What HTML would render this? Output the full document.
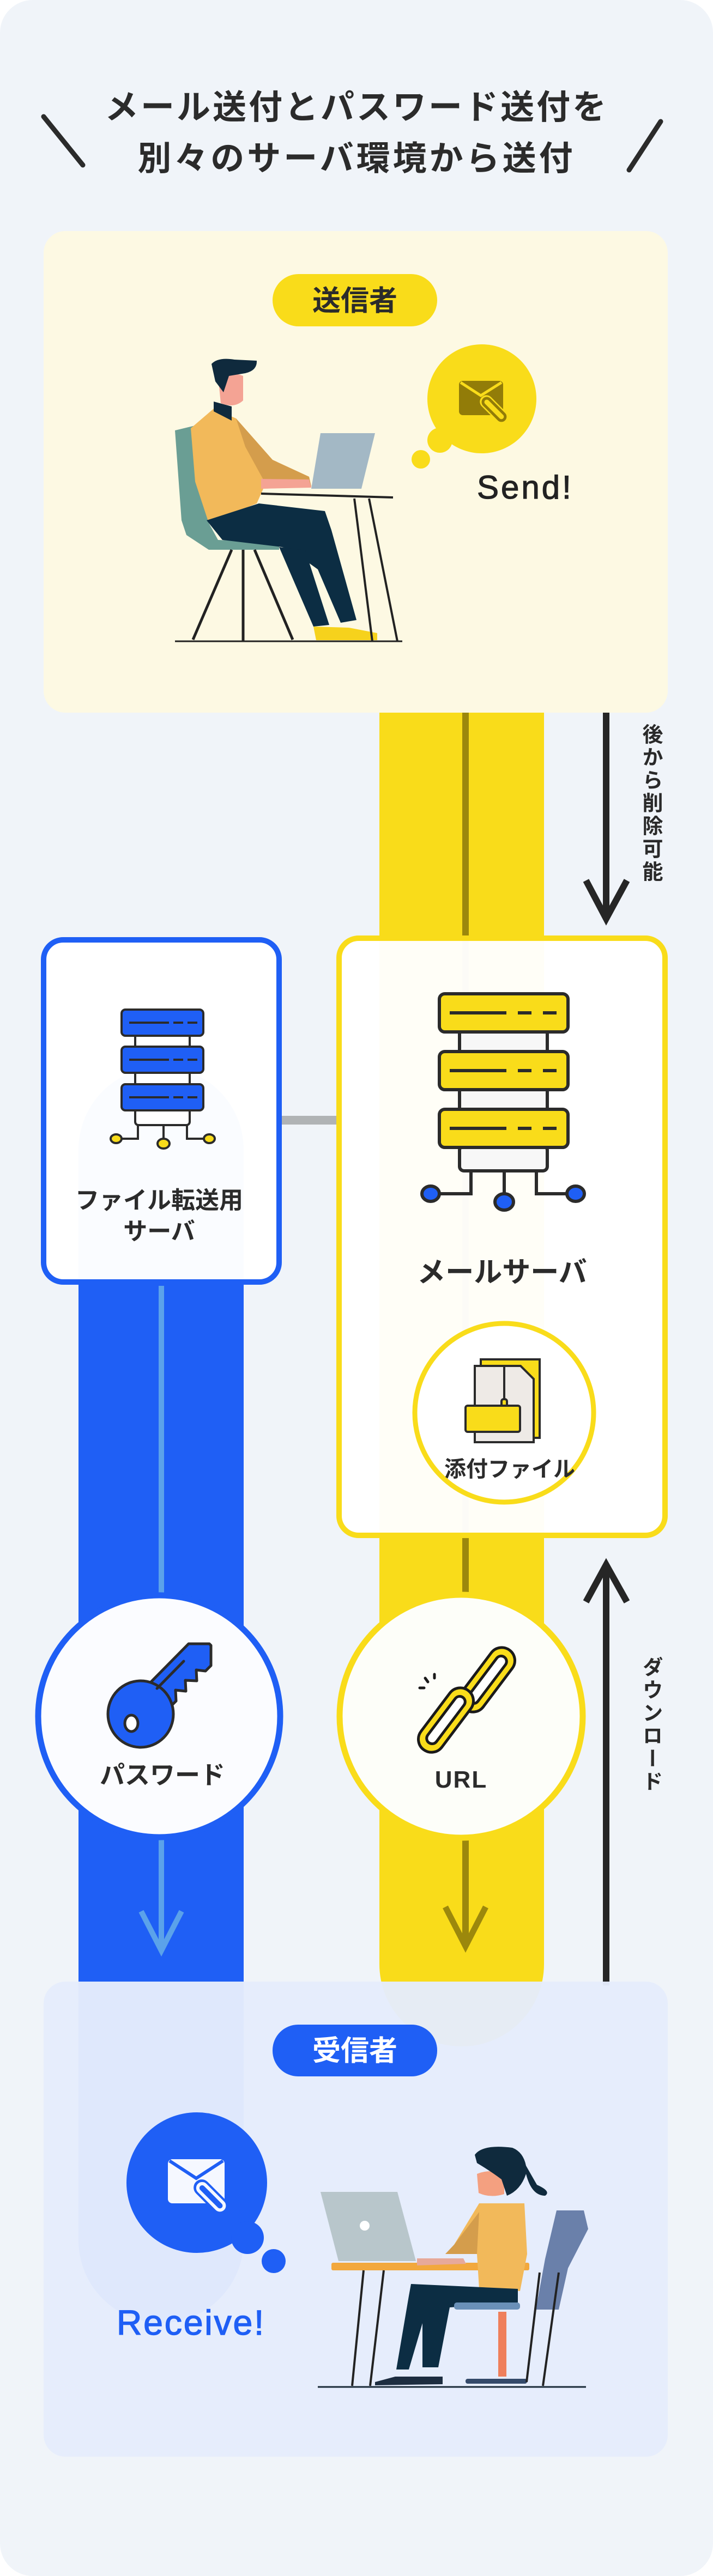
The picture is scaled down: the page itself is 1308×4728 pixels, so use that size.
<!DOCTYPE html>
<html><head><meta charset="utf-8"><style>
html,body{margin:0;padding:0;background:#fff;}
#w{position:relative;width:1308px;height:4728px;overflow:hidden;}
svg{position:absolute;left:0;top:0;}
.v{position:absolute;writing-mode:vertical-rl;font-family:"Liberation Sans","Noto Sans CJK JP",sans-serif;font-weight:700;color:#2a2a2a;font-size:38px;letter-spacing:4px;}
</style></head><body><div id="w">
<svg width="1308" height="4728" viewBox="0 0 1308 4728" xmlns="http://www.w3.org/2000/svg" font-family="'Liberation Sans','Noto Sans CJK JP',sans-serif">
<rect x="0" y="0" width="1308" height="4728" rx="60" fill="#f0f4f9"/>
<!-- title -->
<text x="654" y="218" text-anchor="middle" font-size="62" font-weight="700" fill="#2b2b2b" letter-spacing="4">メール送付とパスワード送付を</text>
<text x="654" y="312" text-anchor="middle" font-size="62" font-weight="700" fill="#2b2b2b" letter-spacing="5">別々のサーバ環境から送付</text>
<line x1="80" y1="214" x2="152" y2="303" stroke="#2b2b2b" stroke-width="9" stroke-linecap="round"/>
<line x1="1212" y1="223" x2="1154" y2="312" stroke="#2b2b2b" stroke-width="9" stroke-linecap="round"/>

<!-- bands -->
<path d="M696 1290 H998 V3605 A151 151 0 0 1 696 3605 Z" fill="#f9dc1a"/>
<path d="M144 2110 A151 151 0 0 1 447 2110 V4112 A151 151 0 0 1 144 4112 Z" fill="#1f5ff5"/>
<line x1="854" y1="1300" x2="854" y2="3570" stroke="#9c880c" stroke-width="12"/>
<polyline points="817,3500 854,3572 891,3500" fill="none" stroke="#9c880c" stroke-width="11"/>
<line x1="296" y1="2360" x2="296" y2="3578" stroke="#5ba2ea" stroke-width="10"/>
<polyline points="259,3508 296,3580 333,3508" fill="none" stroke="#5ba2ea" stroke-width="10"/>

<!-- black arrows -->
<line x1="1112" y1="1305" x2="1112" y2="1688" stroke="#262626" stroke-width="12"/>
<polyline points="1075,1616 1112,1686 1150,1616" fill="none" stroke="#262626" stroke-width="12"/>
<line x1="1112" y1="2872" x2="1112" y2="3644" stroke="#262626" stroke-width="12"/>
<polyline points="1075,2940 1112,2872 1150,2940" fill="none" stroke="#262626" stroke-width="12"/>

<!-- sender box -->
<rect x="80" y="424" width="1145" height="884" rx="40" fill="#fdf9e3"/>
<rect x="500" y="503" width="302" height="96" rx="48" fill="#f9dc1a"/>
<text x="651" y="570" text-anchor="middle" font-size="52" font-weight="700" fill="#2b2b2b">送信者</text>
<!-- bubble -->
<circle cx="884" cy="732" r="100" fill="#f9dc1a"/>
<circle cx="807" cy="808" r="23" fill="#f9dc1a"/>
<circle cx="772" cy="843" r="17" fill="#f9dc1a"/>
<rect x="842" y="699" width="81" height="63" rx="7" fill="#927c08"/>
<polyline points="845,702 882,726 920,702" fill="none" stroke="#f9dc1a" stroke-width="5"/>
<g transform="translate(905,750) rotate(-45)"><rect x="-12" y="-30" width="24" height="64" rx="12" fill="#f9dc1a"/><rect x="-7" y="-24" width="14" height="52" rx="7" fill="none" stroke="#927c08" stroke-width="5"/></g>
<text x="875" y="915" font-size="60" font-weight="400" fill="#222" letter-spacing="4" stroke="#222" stroke-width="1.2">Send!</text>
<!-- man -->
<polygon points="321,790 358,781 383,960 400,991 512,996 512,1009 383,1009 342,982 333,955" fill="#6a9e94"/>
<polygon points="350,786 392,750 433,768 500,844 567,875 571,893 483,897 471,924 383,960 358,884" fill="#f2b95a"/>
<polygon points="433,768 500,844 567,875 571,893 490,893 450,820" fill="#d49d4c"/>
<polygon points="588,795 688,795 663,897 571,897" fill="#a3b8c5"/>
<polygon points="479,879 567,880 571,895 479,897" fill="#f4a394"/>
<polygon points="379,955 475,924 596,938 608,973 654,1138 625,1143 583,1045 533,1009 517,1004 408,991" fill="#0c2d43"/>
<polygon points="512,1004 575,1150 604,1147 560,1010" fill="#0c2d43"/>
<polygon points="575,1150 640,1152 692,1162 692,1175 580,1175" fill="#f6d21c"/>
<polygon points="392,737 425,746 425,772 392,755" fill="#0f2a3d"/>
<path d="M400 690 Q420 680 446 690 L446 735 Q430 750 405 740 Z" fill="#f4a394"/>
<path d="M388 668 Q400 655 430 660 L471 662 Q472 680 450 685 L420 690 L410 720 L395 700 Z" fill="#0f2a3d"/>
<line x1="479" y1="906" x2="721" y2="913" stroke="#222" stroke-width="4"/>
<line x1="650" y1="915" x2="683" y2="1177" stroke="#222" stroke-width="4"/>
<line x1="677" y1="915" x2="729" y2="1177" stroke="#222" stroke-width="4"/>
<line x1="425" y1="1009" x2="354" y2="1174" stroke="#222" stroke-width="5"/>
<line x1="446" y1="1009" x2="446" y2="1176" stroke="#222" stroke-width="5"/>
<line x1="467" y1="1009" x2="537" y2="1174" stroke="#222" stroke-width="5"/>
<line x1="321" y1="1177" x2="738" y2="1177" stroke="#222" stroke-width="3"/>

<!-- connector -->
<line x1="510" y1="2056" x2="625" y2="2056" stroke="#b0b3b5" stroke-width="16"/>

<!-- file server box -->
<rect x="80" y="1725" width="432" height="628" rx="36" fill="#fff" fill-opacity="0.98" stroke="#1f5ff5" stroke-width="10"/>
<g stroke="#2b2b2b" stroke-width="4">
<rect x="248" y="1898" width="100" height="30" fill="#fff"/>
<rect x="248" y="1966" width="100" height="30" fill="#fff"/>
<rect x="248" y="2035" width="100" height="30" rx="6" fill="#fff"/>
<rect x="223" y="1853" width="150" height="48" rx="7" fill="#1f5ff5"/>
<rect x="223" y="1921" width="150" height="48" rx="7" fill="#1f5ff5"/>
<rect x="223" y="1990" width="150" height="48" rx="7" fill="#1f5ff5"/>
<polyline points="253,2065 253,2090 222,2090" fill="none"/>
<polyline points="343,2065 343,2090 374,2090" fill="none"/>
<line x1="300" y1="2065" x2="300" y2="2090"/>
<ellipse cx="213" cy="2090" rx="10" ry="8" fill="#f9dc1a"/>
<ellipse cx="300" cy="2099" rx="11" ry="9" fill="#f9dc1a"/>
<ellipse cx="384" cy="2090" rx="10" ry="8" fill="#f9dc1a"/>
<line x1="237" y1="1877" x2="310" y2="1877"/><line x1="318" y1="1877" x2="336" y2="1877"/><line x1="344" y1="1877" x2="362" y2="1877"/>
<line x1="237" y1="1945" x2="310" y2="1945"/><line x1="318" y1="1945" x2="336" y2="1945"/><line x1="344" y1="1945" x2="362" y2="1945"/>
<line x1="237" y1="2014" x2="310" y2="2014"/><line x1="318" y1="2014" x2="336" y2="2014"/><line x1="344" y1="2014" x2="362" y2="2014"/>
</g>
<text x="292" y="2218" text-anchor="middle" font-size="44" font-weight="700" fill="#2b2b2b">ファイル転送用</text>
<text x="292" y="2275" text-anchor="middle" font-size="44" font-weight="700" fill="#2b2b2b">サーバ</text>

<!-- mail server box -->
<rect x="622" y="1722" width="598" height="1096" rx="36" fill="#fff" fill-opacity="0.97" stroke="#f9dc1a" stroke-width="10"/>
<g stroke="#2b2b2b" stroke-width="6">
<rect x="843" y="1890" width="161" height="45" fill="#f7f7f7"/>
<rect x="843" y="1998" width="161" height="45" fill="#f7f7f7"/>
<rect x="843" y="2103" width="161" height="46" rx="8" fill="#f7f7f7"/>
<rect x="806" y="1824" width="236" height="70" rx="10" fill="#f9dc1a"/>
<rect x="806" y="1930" width="236" height="70" rx="10" fill="#f9dc1a"/>
<rect x="806" y="2036" width="236" height="70" rx="10" fill="#f9dc1a"/>
<polyline points="864,2149 864,2191 806,2191" fill="none"/>
<polyline points="984,2149 984,2191 1042,2191" fill="none"/>
<line x1="925" y1="2149" x2="925" y2="2200"/>
<ellipse cx="790" cy="2191" rx="16" ry="14" fill="#1f5ff5"/>
<ellipse cx="925" cy="2206" rx="17" ry="15" fill="#1f5ff5"/>
<ellipse cx="1056" cy="2191" rx="16" ry="14" fill="#1f5ff5"/>
<line x1="825" y1="1859" x2="929" y2="1859"/><line x1="950" y1="1859" x2="975" y2="1859"/><line x1="996" y1="1859" x2="1021" y2="1859"/>
<line x1="825" y1="1965" x2="929" y2="1965"/><line x1="950" y1="1965" x2="975" y2="1965"/><line x1="996" y1="1965" x2="1021" y2="1965"/>
<line x1="825" y1="2071" x2="929" y2="2071"/><line x1="950" y1="2071" x2="975" y2="2071"/><line x1="996" y1="2071" x2="1021" y2="2071"/>
</g>
<text x="921" y="2353" text-anchor="middle" font-size="52" font-weight="700" fill="#2b2b2b">メールサーバ</text>
<circle cx="925" cy="2593" r="164" fill="#fff" stroke="#f9dc1a" stroke-width="9"/>
<g stroke="#2b2b2b" stroke-width="4">
<rect x="882" y="2495" width="108" height="144" fill="#f9dc1a"/>
<path d="M871 2507 H955 L979 2531 V2647 H871 Z" fill="#eeeae6"/>
<line x1="925" y1="2505" x2="925" y2="2570"/>
<rect x="920" y="2568" width="10" height="14" rx="4" fill="#f9dc1a"/>
<rect x="854" y="2580" width="100" height="48" rx="4" fill="#f9dc1a"/>
</g>
<text x="935" y="2710" text-anchor="middle" font-size="40" font-weight="700" fill="#2b2b2b">添付ファイル</text>

<!-- password circle -->
<circle cx="292" cy="3150" r="222" fill="#fbfcff" stroke="#1f5ff5" stroke-width="11"/>
<g stroke="#2b2b2b" stroke-width="5" stroke-linejoin="round">
<path d="M274 3090 L346 3017 L384 3017 L387 3020 L387 3057 L377 3067 L360 3065 L361 3085 L340 3084 L341 3104 L322 3102 L323 3122 L313 3132 Z" fill="#1f5ff5"/>
<ellipse cx="258" cy="3146" rx="60" ry="61" fill="#1f5ff5"/>
<ellipse cx="241" cy="3163" rx="12" ry="15" fill="#fff"/>
<line x1="288" y1="3099" x2="337" y2="3049" stroke-linecap="round"/>
</g>
<text x="298" y="3274" text-anchor="middle" font-size="46" font-weight="700" fill="#2b2b2b">パスワード</text>

<!-- URL circle -->
<circle cx="846" cy="3150" r="223" fill="#fdfef9" stroke="#f9dc1a" stroke-width="11"/>
<g stroke="#1a1a1a" stroke-width="5" fill="none">
<g transform="translate(894,3083) rotate(-53)"><rect x="-68" y="-24" width="136" height="48" rx="24" fill="#f9dc1a"/><rect x="-52" y="-10" width="104" height="20" rx="10" fill="#fff"/></g>
<g transform="translate(818,3157) rotate(-53)"><rect x="-68" y="-24" width="136" height="48" rx="24" fill="#f9dc1a"/><rect x="-52" y="-10" width="104" height="20" rx="10" fill="#fff"/></g>
<line x1="778" y1="3098" x2="770" y2="3098" stroke-linecap="round"/>
<line x1="780" y1="3080" x2="785" y2="3087" stroke-linecap="round"/>
<line x1="797" y1="3073" x2="797" y2="3080" stroke-linecap="round"/>
</g>
<text x="846" y="3281" text-anchor="middle" font-size="44" font-weight="700" fill="#2b2b2b" letter-spacing="2">URL</text>

<!-- receiver box -->
<rect x="80" y="3637" width="1145" height="872" rx="40" fill="#e5ecfc" fill-opacity="0.97"/>
<rect x="500" y="3716" width="302" height="95" rx="47" fill="#1f5ff5"/>
<text x="651" y="3782" text-anchor="middle" font-size="52" font-weight="700" fill="#fff">受信者</text>
<circle cx="361" cy="4006" r="129" fill="#1f5ff5"/>
<circle cx="454" cy="4107" r="30" fill="#1f5ff5"/>
<circle cx="502" cy="4150" r="22" fill="#1f5ff5"/>
<rect x="308" y="3963" width="104" height="81" rx="8" fill="#f5f8ff"/>
<polyline points="311,3966 360,3998 409,3966" fill="none" stroke="#1f5ff5" stroke-width="6"/>
<g transform="translate(385,4030) rotate(-45)"><rect x="-15" y="-36" width="30" height="78" rx="15" fill="#1f5ff5"/><rect x="-8" y="-28" width="16" height="62" rx="8" fill="none" stroke="#f5f8ff" stroke-width="6"/></g>
<text x="214" y="4285" font-size="64" font-weight="400" fill="#1f5ff5" letter-spacing="3" stroke="#1f5ff5" stroke-width="1.5">Receive!</text>
<!-- woman -->
<polygon points="588,4023 729,4023 763,4150 621,4150" fill="#b8c6cb"/>
<circle cx="669" cy="4085" r="9" fill="#fff"/>
<rect x="608" y="4153" width="363" height="14" rx="3" fill="#f2a83d"/>
<line x1="667" y1="4167" x2="646" y2="4379" stroke="#222" stroke-width="4"/>
<line x1="704" y1="4167" x2="679" y2="4379" stroke="#222" stroke-width="4"/>
<polygon points="1021,4057 1071,4057 1079,4091 1042,4163 1025,4239 983,4239 1000,4146" fill="#6a80aa"/>
<polygon points="879,4044 962,4044 967,4137 954,4205 879,4201 875,4137 817,4137 833,4120" fill="#f2b95a"/>
<polygon points="879,4060 875,4137 817,4137 833,4120" fill="#d49d4c"/>
<polygon points="765,4145 850,4145 855,4155 765,4158" fill="#e7a99a"/>
<polygon points="754,4192 950,4201 950,4226 825,4235 804,4345 775,4345 775,4264 750,4349 727,4349 750,4214" fill="#0c2d43"/>
<rect x="833" y="4226" width="121" height="13" rx="5" fill="#6a90b8"/>
<rect x="914" y="4243" width="15" height="119" fill="#ef7f5b"/>
<rect x="854" y="4366" width="113" height="9" rx="4" fill="#344a6a"/>
<line x1="1025" y1="4171" x2="996" y2="4379" stroke="#222" stroke-width="4"/>
<line x1="990" y1="4171" x2="966" y2="4372" stroke="#222" stroke-width="4"/>
<polygon points="688,4372 725,4362 812,4362 812,4376 688,4378" fill="#1d2d40"/>
<path d="M875 3990 Q900 3980 925 3990 L925 4027 Q900 4035 878 4025 Z" fill="#f4a080"/>
<path d="M871 3955 Q885 3935 940 3942 Q960 3950 965 3975 L985 4010 Q1012 4022 1000 4030 Q975 4030 965 3990 Q955 4020 930 4030 L920 4000 Q900 3985 875 3970 Z" fill="#0f2a3d"/>
<line x1="583" y1="4381" x2="1075" y2="4381" stroke="#1a2a38" stroke-width="3"/>
</svg>
<div class="v" style="left:1166px;top:1328px;">後から削除可能</div>
<div class="v" style="left:1166px;top:3040px;">ダウンロード</div>
</div></body></html>
